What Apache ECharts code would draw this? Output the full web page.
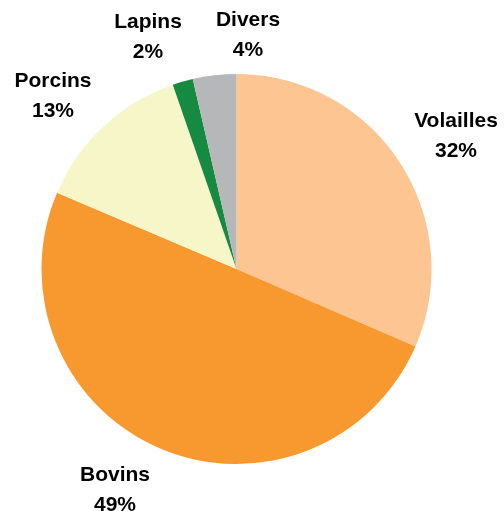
<!DOCTYPE html>
<html>
<head>
<meta charset="utf-8">
<script src="https://cdn.jsdelivr.net/npm/echarts@6/dist/echarts.min.js"></script>
<style>html,body{margin:0;padding:0;background:#fff;}#c{width:504px;height:511px;}</style>
</head>
<body>
<div id="c"></div>
<script>
var categories = ['Volailles', 'Bovins', 'Porcins', 'Lapins', 'Divers'];
var values = [31.5, 49.9, 13.3, 1.7, 3.6];
var pctLabels = ['32%', '49%', '13%', '2%', '4%'];
var colors = ['#FCC592', '#F7992F', '#F7F6C9', '#178A41', '#B6B7B9'];

var labelPos = [[456, 136], [115, 490], [53, 96], [148, 37], [248, 35]];

var chart = echarts.init(document.getElementById('c'), null, {renderer: 'canvas'});
chart.setOption({
  animation: false,
  backgroundColor: '#ffffff',
  series: [{
    type: 'pie',
    center: [236.5, 269],
    radius: 195,
    startAngle: 90,
    clockwise: true,
    avoidLabelOverlap: false,
    silent: true,
    itemStyle: {borderWidth: 0},
    label: {
      show: true,
      position: 'outside',
      formatter: function (p) { return p.name + '\n' + pctLabels[p.dataIndex]; },
      fontFamily: 'Liberation Sans, Arial, sans-serif',
      fontWeight: 'bold',
      fontSize: 21,
      lineHeight: 30,
      color: '#000',
      align: 'center'
    },
    labelLine: {show: false},
    labelLayout: function (params) {
      var p = labelPos[params.dataIndex];
      return {x: p[0], y: p[1], align: 'center', verticalAlign: 'middle'};
    },
    data: categories.map(function (c, i) {
      return {name: c, value: values[i], itemStyle: {color: colors[i]}};
    })
  }]
});
</script>
</body>
</html>
